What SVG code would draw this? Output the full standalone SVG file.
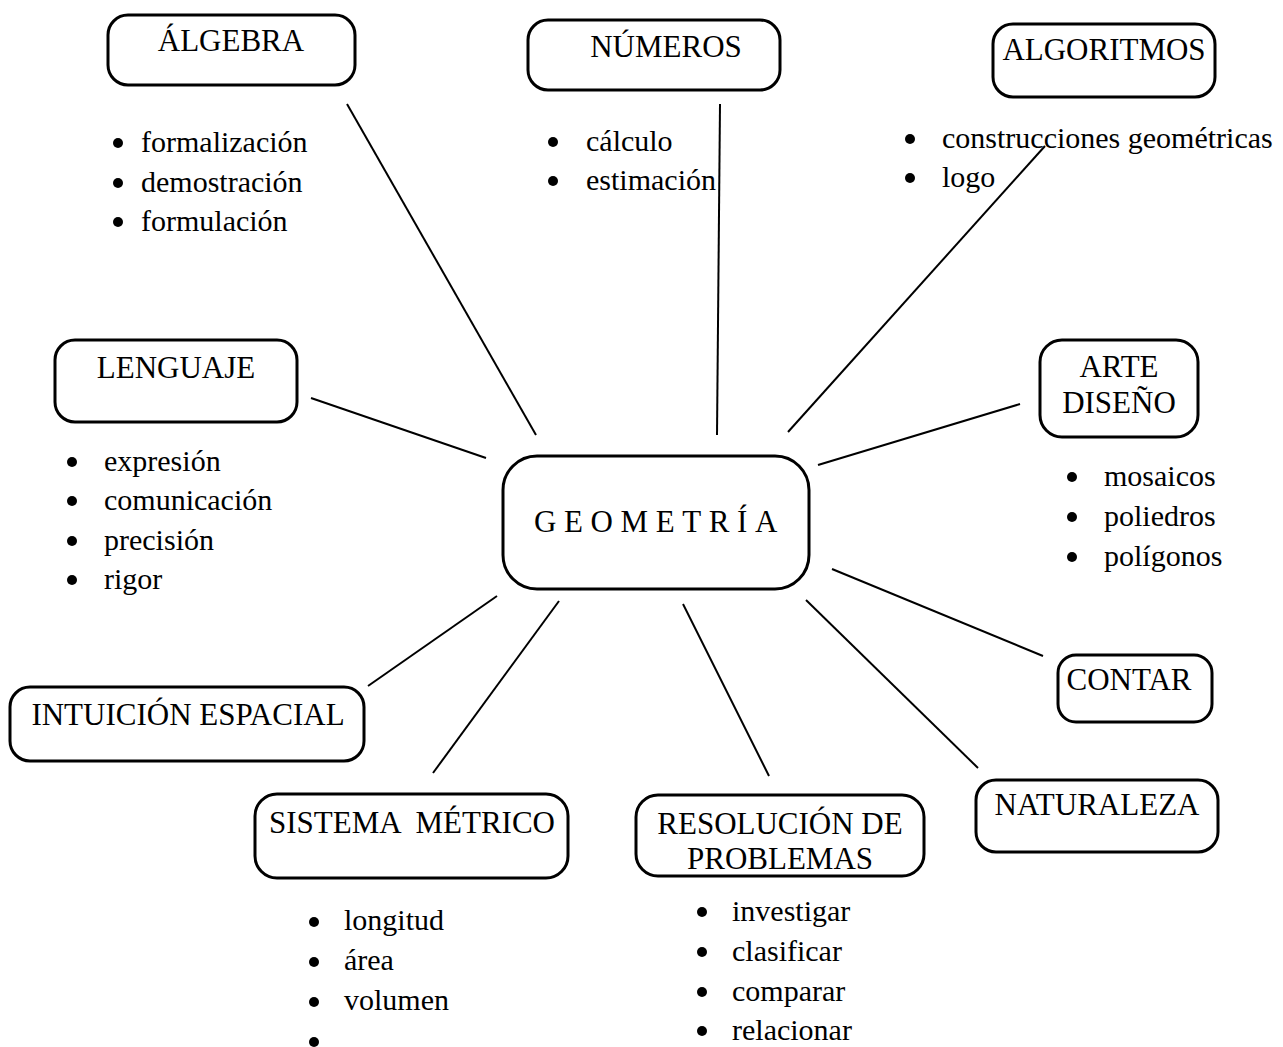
<svg xmlns="http://www.w3.org/2000/svg" width="1283" height="1047" viewBox="0 0 1283 1047">
  <style>
    .box { fill: #fff; stroke: #000; stroke-width: 3; }
    .lbl { font-family: "Liberation Serif", "Times New Roman", serif; font-size: 31px; fill: #000; text-anchor: middle; }
    .geo { font-family: "Liberation Serif", "Times New Roman", serif; font-size: 31px; fill: #000; letter-spacing: 7.6px; }
    .item { font-family: "Liberation Serif", "Times New Roman", serif; font-size: 30px; fill: #000; }
    .dot { fill: #000; }
    .edge { stroke: #000; stroke-width: 2; fill: none; }
  </style>

  <rect width="1283" height="1047" fill="#fff"/>

  <!-- connectors from the central node to each topic -->
  <g id="connectors">
    <line class="edge" x1="347" y1="104" x2="536" y2="435"/>
    <line class="edge" x1="720" y1="104" x2="717" y2="435"/>
    <line class="edge" x1="1045" y1="146" x2="788" y2="432"/>
    <line class="edge" x1="311" y1="398" x2="486" y2="458"/>
    <line class="edge" x1="1020" y1="404" x2="818" y2="465"/>
    <line class="edge" x1="832" y1="569" x2="1043" y2="656"/>
    <line class="edge" x1="806" y1="600" x2="978" y2="768"/>
    <line class="edge" x1="683" y1="604" x2="769" y2="776"/>
    <line class="edge" x1="559" y1="601" x2="433" y2="773"/>
    <line class="edge" x1="497" y1="596" x2="368" y2="686"/>
  </g>

  <g id="geometria">
    <rect class="box" x="503" y="456" width="306" height="133" rx="34"/>
    <text class="geo" x="534" y="532">GEOMETRÍA</text>
  </g>

  <g id="algebra">
    <rect class="box" x="108" y="15" width="247" height="70" rx="20"/>
    <text class="lbl" x="231" y="51">ÁLGEBRA</text>
    <circle class="dot" cx="118" cy="143" r="5"/>
    <circle class="dot" cx="118" cy="183" r="5"/>
    <circle class="dot" cx="118" cy="222" r="5"/>
    <text class="item" x="141" y="152">formalización</text>
    <text class="item" x="141" y="192">demostración</text>
    <text class="item" x="141" y="231">formulación</text>
  </g>

  <g id="numeros">
    <rect class="box" x="528" y="20" width="252" height="70" rx="20"/>
    <text class="lbl" x="666" y="57">NÚMEROS</text>
    <circle class="dot" cx="553" cy="142" r="5"/>
    <circle class="dot" cx="553" cy="181" r="5"/>
    <text class="item" x="586" y="151">cálculo</text>
    <text class="item" x="586" y="190">estimación</text>
  </g>

  <g id="algoritmos">
    <rect class="box" x="993" y="24" width="222" height="73" rx="20"/>
    <text class="lbl" x="1104" y="60">ALGORITMOS</text>
    <circle class="dot" cx="910" cy="139" r="5"/>
    <circle class="dot" cx="910" cy="178" r="5"/>
    <text class="item" x="942" y="148">construcciones geométricas</text>
    <text class="item" x="942" y="187">logo</text>
  </g>

  <g id="lenguaje">
    <rect class="box" x="55" y="340" width="242" height="82" rx="20"/>
    <text class="lbl" x="176" y="378">LENGUAJE</text>
    <circle class="dot" cx="72" cy="462" r="5"/>
    <circle class="dot" cx="72" cy="501" r="5"/>
    <circle class="dot" cx="72" cy="541" r="5"/>
    <circle class="dot" cx="72" cy="580" r="5"/>
    <text class="item" x="104" y="471">expresión</text>
    <text class="item" x="104" y="510">comunicación</text>
    <text class="item" x="104" y="550">precisión</text>
    <text class="item" x="104" y="589">rigor</text>
  </g>

  <g id="arte-diseno">
    <rect class="box" x="1040" y="340" width="158" height="97" rx="22"/>
    <text class="lbl" x="1119" y="377">ARTE</text>
    <text class="lbl" x="1119" y="413">DISEÑO</text>
    <circle class="dot" cx="1072" cy="477" r="5"/>
    <circle class="dot" cx="1072" cy="517" r="5"/>
    <circle class="dot" cx="1072" cy="557" r="5"/>
    <text class="item" x="1104" y="486">mosaicos</text>
    <text class="item" x="1104" y="526">poliedros</text>
    <text class="item" x="1104" y="566">polígonos</text>
  </g>

  <g id="contar">
    <rect class="box" x="1058" y="655" width="154" height="67" rx="18"/>
    <text class="lbl" x="1129" y="690">CONTAR</text>
  </g>

  <g id="naturaleza">
    <rect class="box" x="976" y="780" width="242" height="72" rx="20"/>
    <text class="lbl" x="1097" y="815">NATURALEZA</text>
  </g>

  <g id="intuicion-espacial">
    <rect class="box" x="10" y="687" width="354" height="74" rx="20"/>
    <text class="lbl" x="188" y="725">INTUICIÓN ESPACIAL</text>
  </g>

  <g id="sistema-metrico">
    <rect class="box" x="255" y="794" width="313" height="84" rx="22"/>
    <text class="lbl" x="412" y="833" xml:space="preserve">SISTEMA  MÉTRICO</text>
    <circle class="dot" cx="314" cy="922" r="5"/>
    <circle class="dot" cx="314" cy="962" r="5"/>
    <circle class="dot" cx="314" cy="1002" r="5"/>
    <circle class="dot" cx="314" cy="1042" r="5"/>
    <text class="item" x="344" y="930">longitud</text>
    <text class="item" x="344" y="970">área</text>
    <text class="item" x="344" y="1010">volumen</text>
  </g>

  <g id="resolucion-problemas">
    <rect class="box" x="636" y="795" width="288" height="81" rx="22"/>
    <text class="lbl" x="780" y="834">RESOLUCIÓN DE</text>
    <text class="lbl" x="780" y="869">PROBLEMAS</text>
    <circle class="dot" cx="702" cy="912" r="5"/>
    <circle class="dot" cx="702" cy="952" r="5"/>
    <circle class="dot" cx="702" cy="992" r="5"/>
    <circle class="dot" cx="702" cy="1031" r="5"/>
    <text class="item" x="732" y="921">investigar</text>
    <text class="item" x="732" y="961">clasificar</text>
    <text class="item" x="732" y="1001">comparar</text>
    <text class="item" x="732" y="1040">relacionar</text>
  </g>
</svg>
